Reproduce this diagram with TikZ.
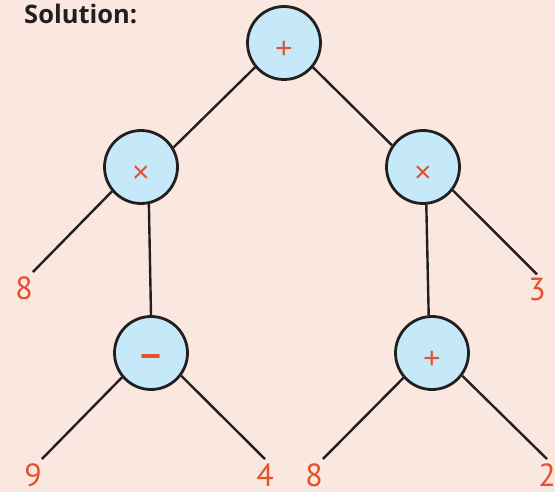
\documentclass[tikz,border=0pt]{standalone}
\usepackage{fontspec}
\setmainfont{PT Sans}
\newfontfamily\headfont{Open Sans}
\newfontfamily\opfont{Liberation Sans}
\usepackage{tikz}
\definecolor{sheet}{RGB}{250,232,224}
\definecolor{opfill}{RGB}{197,233,248}
\definecolor{numred}{RGB}{229,80,46}
\definecolor{ink}{RGB}{35,31,32}

\begin{document}
\begin{tikzpicture}[
  x=1pt,y=-1pt,
  op/.style={circle,draw=ink,line width=2.8pt,fill=opfill,minimum size=73pt,inner sep=0pt,text=numred,font=\opfont\fontsize{30}{30}\selectfont,text height=31pt,text depth=0pt},
  leaf/.style={text=numred,font=\fontsize{32}{32}\selectfont,inner xsep=0pt,inner ysep=4pt,anchor=base},
  edge/.style={draw=ink,line width=2.4pt},
]
\fill[sheet] (0,0) rectangle (555,492);
\useasboundingbox (0,0) rectangle (555,492);
\node[anchor=base west,inner sep=0pt,text=ink,font=\headfont\bfseries\fontsize{25.5}{25.5}\selectfont] (title) at (24,24) {Solution:};
% operators
\node[op] (root) at (284,43) {+};
\node[op] (lmul) at (141,167) {×};
\node[op] (rmul) at (423,167) {×};
\node[op,font=\opfont\bfseries\fontsize{36}{36}\selectfont] (lsub) at (151,353) {−};
\node[op] (radd) at (432,353) {+};
% operands
\node[leaf] (n8l) at (24,299) {8};
\node[leaf] (n3) at (537,301) {3};
\node[leaf] (n9) at (33,486) {9};
\node[leaf] (n4) at (265,486) {4};
\node[leaf] (n8r) at (314,486) {8};
\node[leaf] (n2) at (547,486) {2};
% branches
\draw[edge] (root.220) -- (lmul.31);
\draw[edge] (root.320) -- (rmul.145);
\draw[edge] (lmul.220) -- (n8l.north east);
\draw[edge] (lmul.282) -- (lsub.north);
\draw[edge] (rmul.275) -- (radd.95);
\draw[edge] (rmul.322) -- (n3.north);
\draw[edge] (lsub.220) -- (n9.north east);
\draw[edge] (lsub.323) -- (n4.north);
\draw[edge] (radd.221) -- (n8r.north east);
\draw[edge] (radd.323) -- (n2.north);
\end{tikzpicture}
\end{document}
